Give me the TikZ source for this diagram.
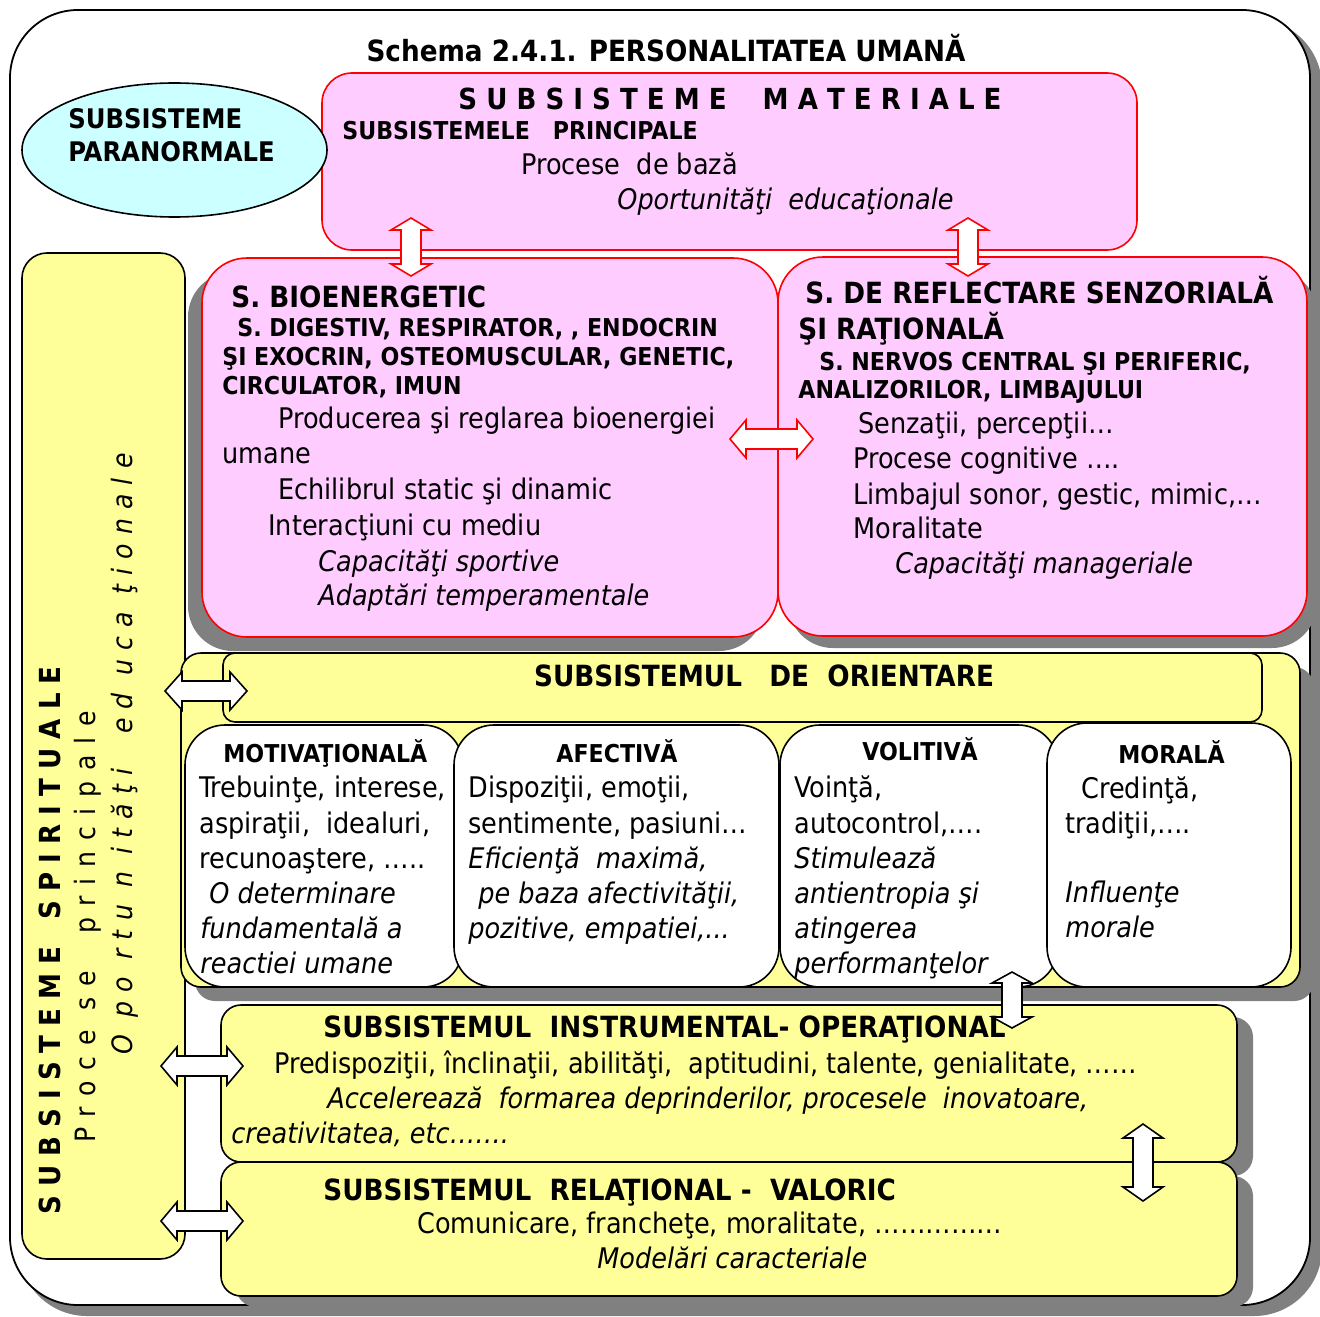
\documentclass[tikz,border=0pt]{standalone}
\usepackage{fontspec}
\setmainfont{DejaVuSansCondensed}[Extension=.ttf, UprightFont=*, BoldFont=*-Bold, ItalicFont=*-Oblique, BoldItalicFont=*-BoldOblique]
\definecolor{pinkfill}{HTML}{FFCCFF}
\definecolor{boxred}{HTML}{FF0000}
\definecolor{paracyan}{HTML}{CCFFFF}
\definecolor{yelfill}{HTML}{FFFF99}
\definecolor{shadowgray}{HTML}{808080}

\tikzset{
  txtlbl/.style={anchor=base west, inner sep=0pt},
  txtbody/.style={txtlbl, font=\fontsize{14.2}{17}\selectfont},
  txtital/.style={txtlbl, font=\fontsize{14.2}{17}\selectfont\itshape},
  txthead/.style={txtlbl, font=\fontsize{14.6}{17}\selectfont\bfseries},
  txtsub/.style={txtlbl, font=\fontsize{12.3}{14}\selectfont\bfseries},
  pinkbox/.style={draw=boxred, fill=pinkfill, line width=0.8pt, rounded corners=22.5pt},
  yelbox/.style={draw, fill=yelfill, line width=0.8pt},
  whitebox/.style={draw, fill=white, line width=0.8pt, rounded corners=20pt},
  shadowfill/.style={fill=shadowgray},
  rarrow/.style={draw=boxred, fill=white, line width=0.8pt},
  warrow/.style={draw, fill=white, line width=0.8pt},
}

% block double arrows: style, x, top, bottom, head length
\newcommand{\arrV}[5]{%
  \draw[#1] (#2,#3) -- ++(20,#5) -- ++(-10,0) -- ({#2+10},{#4-#5}) -- ++(10,0) -- (#2,#4)
    -- ++(-20,-#5) -- ++(10,0) -- ({#2-10},{#3+#5}) -- ++(-10,0) -- cycle;}
% style, y, left, right, head length
\newcommand{\arrH}[5]{%
  \draw[#1] (#3,#2) -- ++(#5,-19) -- ++(0,9) -- ({#4-#5},{#2-10}) -- ++(0,-9) -- (#4,#2)
    -- ++(-#5,19) -- ++(0,-9) -- ({#3+#5},{#2+10}) -- ++(0,9) -- cycle;}

\begin{document}
\begin{tikzpicture}[x=0.5pt, y=-0.5pt]
  \useasboundingbox (0,0) rectangle (1320,1316);

  % outer frame
  \fill[shadowfill, rounded corners=34pt] (19,19) rectangle (1322,1316);
  \draw[line width=0.9pt, fill=white, rounded corners=34pt] (10,10) rectangle (1310,1305);
  \node[txthead, anchor=base] (title) at (666,62) {Schema 2.4.1. PERSONALITATEA UMANĂ};

  % material subsystems
  \draw[pinkbox, rounded corners=15pt] (322,73) rectangle (1137,250);
  \node[txthead, anchor=base, font=\fontsize{14.5}{17}\selectfont\bfseries] (mat1) at (730,110)
    {S U B S I S T E M E\hspace{18pt}M A T E R I A L E};
  \node[txtsub] (mat2) at (342,140) {SUBSISTEMELE\ \ \ PRINCIPALE};
  \node[txtbody] (mat3) at (521,175) {Procese\ \ de bază};
  \node[txtital] (mat4) at (617,210) {Oportunităţi\ \ educaţionale};

  % paranormal subsystems
  \draw[line width=0.8pt, fill=paracyan] (174.5,150) ellipse [x radius=152.5, y radius=67];
  \node[txthead, font=\fontsize{13.5}{16}\selectfont\bfseries] (para1) at (68,129) {SUBSISTEME};
  \node[txthead, font=\fontsize{13.5}{16}\selectfont\bfseries] (para2) at (68,162) {PARANORMALE};

  % spiritual subsystems
  \draw[yelbox, rounded corners=12.5pt] (22,253) rectangle (185,1259);
  \node[txtlbl, rotate=90, font=\fontsize{14.5}{18}\selectfont\bfseries] (spir1) at (60,1215)
    {S U B S I S T E M E\ \ \ S P I R I T U A L E};
  \node[txtlbl, rotate=90, font=\fontsize{14}{17}\selectfont\addfontfeatures{LetterSpace=39}] (spir2) at (95,1143)
    {Proce se\ \ principale};
  \node[txtlbl, rotate=90, font=\fontsize{14}{17}\selectfont\itshape\addfontfeatures{LetterSpace=33}] (spir3) at (132,1055)
    {O po rtu n ităţi\ \ ed uca ţionale};

  % bioenergetic and reflection boxes
  \fill[shadowfill, rounded corners=22.5pt] (188,272) rectangle (764,651);
  \fill[shadowfill, rounded corners=22.5pt] (788,269) rectangle (1317,648);
  \draw[pinkbox] (202,258) rectangle (778,637);
  \draw[pinkbox] (778,257) rectangle (1307,636);

  \node[txthead] (bio1) at (231,307) {S. BIOENERGETIC};
  \node[txtsub] (bio2) at (237,336) {S. DIGESTIV, RESPIRATOR, , ENDOCRIN};
  \node[txtsub] (bio3) at (222,365) {ŞI EXOCRIN, OSTEOMUSCULAR, GENETIC,};
  \node[txtsub] (bio4) at (222,394) {CIRCULATOR, IMUN};
  \node[txtbody] (bio5) at (278,428) {Producerea şi reglarea bioenergiei};
  \node[txtbody] (bio6) at (222,463) {umane};
  \node[txtbody] (bio7) at (278,499) {Echilibrul static şi dinamic};
  \node[txtbody] (bio8) at (268,535) {Interacţiuni cu mediu};
  \node[txtital] (bio9) at (318,571) {Capacităţi sportive};
  \node[txtital] (bio10) at (318,605) {Adaptări temperamentale};

  \node[txthead] (ref1) at (805,303) {S. DE REFLECTARE SENZORIALĂ};
  \node[txthead] (ref2) at (798,339) {ŞI RAŢIONALĂ};
  \node[txtsub] (ref3) at (819,370) {S. NERVOS CENTRAL ŞI PERIFERIC,};
  \node[txtsub] (ref4) at (798,398) {ANALIZORILOR, LIMBAJULUI};
  \node[txtbody] (ref5) at (858,433) {Senzaţii, percepţii…};
  \node[txtbody] (ref6) at (853,468) {Procese cognitive ….};
  \node[txtbody] (ref7) at (853,504) {Limbajul sonor, gestic, mimic,…};
  \node[txtbody] (ref8) at (853,538) {Moralitate};
  \node[txtital] (ref9) at (895,573) {Capacităţi manageriale};

  % orientation subsystem
  \fill[shadowfill, rounded corners=10pt] (195,667) rectangle (1314,1001);
  \draw[yelbox, rounded corners=10pt] (181,653) rectangle (1300,987);
  \draw[yelbox, rounded corners=6pt] (223,653) rectangle (1262,722);
  \node[txthead, anchor=base] (ori) at (764,686) {SUBSISTEMUL\ \ \ DE\ \ ORIENTARE};
  \draw[whitebox] (185,725) rectangle (463,987);
  \draw[whitebox] (454,725) rectangle (779,987);
  \draw[whitebox] (780,725) rectangle (1058,987);
  \draw[whitebox] (1047,723) rectangle (1291,987);

  \node[txtsub] (mot1) at (223,762) {MOTIVAŢIONALĂ};
  \node[txtbody] (mot2) at (199,797) {Trebuinţe, interese,};
  \node[txtbody] (mot3) at (199,833) {aspiraţii,\ \ idealuri,};
  \node[txtbody] (mot4) at (199,868) {recunoaştere, …..};
  \node[txtital] (mot5) at (209,903) {O determinare};
  \node[txtital] (mot6) at (200,938) {fundamentală a};
  \node[txtital] (mot7) at (200,973) {reactiei umane};

  \node[txtsub] (afe1) at (556,762) {AFECTIVĂ};
  \node[txtbody] (afe2) at (468,797) {Dispoziţii, emoţii,};
  \node[txtbody] (afe3) at (468,833) {sentimente, pasiuni…};
  \node[txtital] (afe4) at (468,868) {Eficienţă\ \ maximă,};
  \node[txtital] (afe5) at (478,903) {pe baza afectivităţii,};
  \node[txtital] (afe6) at (468,938) {pozitive, empatiei,...};

  \node[txtsub] (vol1) at (862,760) {VOLITIVĂ};
  \node[txtbody] (vol2) at (794,797) {Voinţă,};
  \node[txtbody] (vol3) at (794,833) {autocontrol,….};
  \node[txtital] (vol4) at (794,868) {Stimulează};
  \node[txtital] (vol5) at (794,903) {antientropia şi};
  \node[txtital] (vol6) at (794,938) {atingerea};
  \node[txtital] (vol7) at (794,973) {performanţelor};

  \node[txtsub] (mor1) at (1118,763) {MORALĂ};
  \node[txtbody] (mor2) at (1081,798) {Credinţă,};
  \node[txtbody] (mor3) at (1065,833) {tradiţii,….};
  \node[txtital] (mor4) at (1065,902) {Influenţe};
  \node[txtital] (mor5) at (1065,937) {morale};

  % instrumental and relational subsystems
  \fill[shadowfill, rounded corners=10pt] (236,1017) rectangle (1253,1176);
  \fill[shadowfill, rounded corners=10pt] (236,1176) rectangle (1253,1307);
  \draw[yelbox, rounded corners=10pt] (221,1005) rectangle (1237,1162);
  \draw[yelbox, rounded corners=10pt] (221,1162) rectangle (1237,1296);

  \node[txthead] (ins1) at (323,1037) {SUBSISTEMUL\ \ INSTRUMENTAL- OPERAŢIONAL};
  \node[txtbody] (ins2) at (274,1073) {Predispoziţii, înclinaţii, abilităţi,\ \ aptitudini, talente, genialitate, ……};
  \node[txtital] (ins3) at (327,1108) {Accelerează\ \ formarea deprinderilor, procesele\ \ inovatoare,};
  \node[txtital] (ins4) at (231,1143) {creativitatea, etc…….};

  \node[txthead] (rel1) at (323,1200) {SUBSISTEMUL\ \ RELAŢIONAL -\ \ VALORIC};
  \node[txtbody] (rel2) at (417,1233) {Comunicare, francheţe, moralitate, ……………};
  \node[txtital] (rel3) at (597,1268) {Modelări caracteriale};

  % links
  \arrV{rarrow}{411}{218}{276}{12}
  \arrV{rarrow}{968}{218}{276}{12}
  \arrH{rarrow}{439}{730}{813}{16}
  \arrH{warrow}{691}{165}{247}{17}
  \arrH{warrow}{1066}{161}{243}{16}
  \arrH{warrow}{1221}{161}{243}{16}
  \arrV{warrow}{1012}{972}{1028}{11}
  \arrV{warrow}{1143}{1124}{1201}{14}
\end{tikzpicture}
\end{document}
